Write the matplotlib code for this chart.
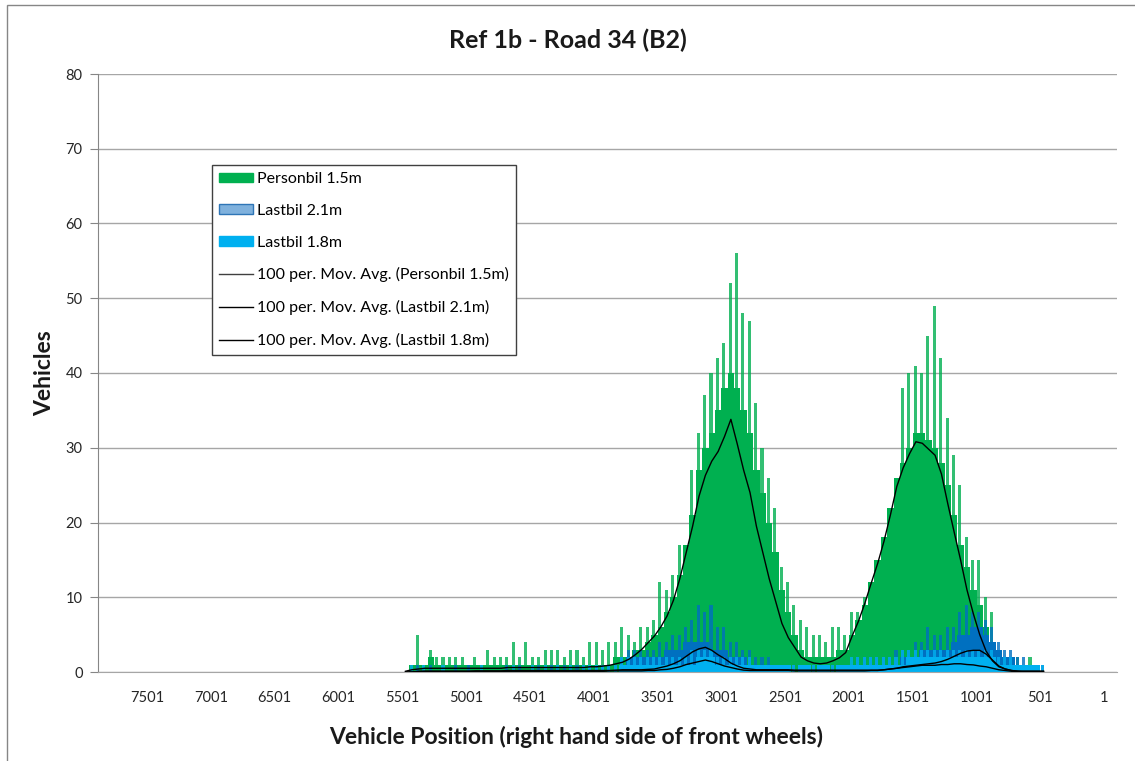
"""Ref 1b - Road 34 (B2): lateral position histogram with 100-period moving averages."""
import matplotlib
matplotlib.use("Agg")
import matplotlib.pyplot as plt
import numpy as np
from matplotlib.lines import Line2D
from matplotlib.patches import Patch, Rectangle

plt.rcParams["font.family"] = ["Lato", "DejaVu Sans"]

# vehicle position (category), 50-position bins, left -> right
POS = np.arange(5475, 450, -50)

# Personbil 1.5m: solid body and tallest spike per bin
CAR_BODY = [0, 1, 1, 1, 2, 1, 1, 1, 1, 1, 1, 1, 1, 1, 1, 1, 1, 1, 1, 1,
            1, 1, 1, 1, 1, 1, 1, 1, 1, 1, 1, 1, 1, 2, 2, 2, 3, 3, 4, 5,
            6, 8, 10, 13, 17, 21, 27, 30, 32, 35, 38, 40, 38, 35, 32, 27, 24, 20, 16, 11,
            8, 5, 3, 2, 2, 2, 2, 2, 3, 3, 5, 7, 9, 12, 15, 18, 22, 26, 28, 30,
            32, 32, 31, 30, 28, 25, 21, 17, 14, 11, 9, 6, 3, 1, 1, 1, 1, 1, 1, 1, 0]
CAR_PEAK = [0, 1, 5, 1, 3, 2, 2, 2, 2, 2, 1, 2, 1, 3, 2, 2, 2, 4, 2, 4,
            2, 2, 3, 3, 3, 2, 3, 3, 2, 4, 4, 3, 4, 4, 6, 5, 4, 6, 6, 7,
            12, 11, 13, 17, 17, 27, 32, 37, 40, 42, 44, 52, 56, 48, 47, 36, 30, 26, 22, 14,
            12, 9, 7, 6, 5, 5, 4, 6, 6, 5, 8, 8, 10, 10, 15, 15, 19, 26, 38, 40,
            41, 40, 45, 49, 42, 34, 29, 25, 18, 15, 15, 10, 8, 3, 2, 2, 2, 1, 2, 1, 0]
CAR_MA = [0.1, 0.3, 0.4, 0.5, 0.5, 0.5, 0.5, 0.5, 0.5, 0.5,
          0.5, 0.5, 0.5, 0.5, 0.5, 0.5, 0.6, 0.6, 0.6, 0.6,
          0.6, 0.6, 0.6, 0.6, 0.6, 0.6, 0.6, 0.6, 0.6, 0.7,
          0.7, 0.8, 0.9, 1.1, 1.3, 1.7, 2.3, 3.0, 3.9, 4.8,
          6.0, 7.5, 9.6, 12.5, 16.0, 19.5, 23.5, 26.3, 28.2, 29.5,
          31.5, 33.8, 30.5, 27.0, 24.0, 19.5, 16.0, 12.5, 9.5, 6.5,
          4.6, 3.3, 2.0, 1.5, 1.2, 1.1, 1.2, 1.5, 1.9, 2.6,
          4.8, 6.8, 9.2, 11.9, 14.5, 17.5, 21.0, 24.8, 27.3, 29.2,
          30.8, 30.6, 29.8, 29.0, 26.5, 22.5, 18.7, 15.0, 11.0, 7.8,
          5.0, 2.8, 1.5, 0.7, 0.4, 0.2, 0.1, 0.0, 0.0, 0.0, 0.0]

# Lastbil 2.1m
T21_BODY = [0] * 30 + [0, 0, 0, 0, 1, 2, 2, 2, 2, 2,
                       2, 3, 3, 3, 4, 4, 4, 4, 3, 3,
                       3, 2, 2, 2, 1, 1, 1, 1, 0, 0,
                       0, 0, 0, 0, 0, 0, 0, 0, 0, 0,
                       0, 1, 1, 1, 1, 1, 1, 1, 2, 2,
                       2, 3, 3, 3, 3, 3, 4, 5, 5, 6,
                       6, 5, 4, 3, 2, 2, 1, 1, 1, 1, 0]
T21_PEAK = [0, 0, 1, 0, 1, 0, 0, 0, 1, 0, 1, 0, 0, 0, 0, 0, 1, 0, 1, 0,
            0, 1, 0, 1, 1, 1, 0, 1, 1, 1, 1, 1, 1, 1, 2, 3, 3, 3, 3, 3,
            4, 4, 5, 5, 6, 7, 9, 8, 9, 6, 6, 4, 4, 3, 3, 2, 2, 2, 1, 1,
            1, 1, 1, 1, 1, 1, 1, 1, 1, 1, 1, 2, 2, 2, 2, 2, 2, 3, 3, 3,
            4, 4, 6, 5, 5, 6, 6, 8, 9, 8, 8, 7, 6, 4, 3, 3, 2, 2, 1, 1, 1]
T21_MA = [0, 0, 0.1, 0.1, 0.1, 0.1, 0.1, 0.1, 0.1, 0.1,
          0.1, 0.15, 0.15, 0.15, 0.15, 0.15, 0.2, 0.2, 0.2, 0.2,
          0.2, 0.2, 0.2, 0.2, 0.2, 0.2, 0.2, 0.2, 0.2, 0.2,
          0.2, 0.2, 0.2, 0.25, 0.3, 0.3, 0.3, 0.3, 0.35, 0.4,
          0.6, 0.8, 1.1, 1.5, 2.1, 2.7, 3.1, 3.3, 2.9, 2.3,
          1.8, 1.2, 0.8, 0.5, 0.4, 0.3, 0.3, 0.3, 0.3, 0.3,
          0.3, 0.25, 0.25, 0.25, 0.25, 0.25, 0.25, 0.25, 0.25, 0.25,
          0.25, 0.25, 0.25, 0.25, 0.25, 0.3, 0.4, 0.5, 0.7, 0.8,
          0.9, 1.0, 1.1, 1.2, 1.4, 1.7, 2.1, 2.5, 2.8, 2.9,
          2.9, 2.4, 1.6, 0.8, 0.4, 0.2, 0.1, 0.1, 0.1, 0.1, 0.1]

# Lastbil 1.8m
T18_BODY = [0] * 30 + [0, 0, 0, 0, 1, 1, 1, 1, 1, 1,
                       1, 1, 1, 1, 1, 1, 2, 2, 2, 1,
                       1, 1, 1, 1, 1, 1, 1, 1, 1, 1,
                       1, 0, 1, 1, 0, 1, 1, 0, 1, 1,
                       1, 1, 1, 1, 1, 1, 1, 1, 1, 2,
                       2, 2, 2, 2, 2, 2, 2, 2, 2, 2,
                       2, 2, 2, 1, 1, 1, 1, 1, 1, 1, 0]
T18_PEAK = [0, 1, 0, 1, 0, 0, 1, 0, 0, 0, 0, 0, 1, 0, 0, 0, 0, 1, 0, 0,
            1, 0, 1, 0, 1, 0, 1, 0, 1, 1, 1, 1, 1, 1, 2, 2, 2, 2, 2, 2,
            2, 2, 2, 2, 2, 3, 3, 3, 3, 2, 2, 2, 2, 2, 2, 1, 1, 1, 1, 1,
            1, 1, 1, 1, 1, 1, 1, 1, 1, 1, 2, 2, 2, 2, 2, 2, 2, 2, 3, 3,
            3, 3, 3, 3, 3, 3, 3, 3, 3, 3, 3, 3, 3, 2, 2, 2, 1, 1, 1, 1, 1]
T18_MA = [0, 0, 0.05, 0.1, 0.1, 0.1, 0.1, 0.1, 0.1, 0.1] + [0.1] * 20 + \
         [0.1, 0.1, 0.15, 0.15, 0.15, 0.15, 0.15, 0.15, 0.2, 0.2,
          0.3, 0.35, 0.5, 0.7, 1.0, 1.2, 1.4, 1.6, 1.4, 1.1,
          0.8, 0.6, 0.4, 0.25, 0.2, 0.2, 0.2, 0.2, 0.2, 0.2,
          0.2, 0.15, 0.15, 0.15, 0.15, 0.15, 0.15, 0.15, 0.15, 0.15,
          0.15, 0.15, 0.15, 0.2, 0.2, 0.3, 0.4, 0.5, 0.6, 0.7,
          0.8, 0.9, 0.9, 0.9, 1.0, 1.0, 1.1, 1.1, 1.0, 0.95,
          0.8, 0.7, 0.5, 0.3, 0.2, 0.1, 0.1, 0.1, 0.1, 0.1, 0.1]

XTICKS = np.arange(7501, 0, -500)
GREEN, BLUE21, BLUE18 = "#00B050", "#0070C0", "#00B0F0"
GRID = "#A6A6A6"

W, H = 1135, 761
fig = plt.figure(figsize=(W / 100, H / 100), dpi=100)
ax = fig.add_axes([98 / W, 1 - 672 / H, (1117 - 98) / W, (672 - 74) / H])

for body, peak, c in ((CAR_BODY, CAR_PEAK, GREEN),
                      (T21_BODY, T21_PEAK, BLUE21),
                      (T18_BODY, T18_PEAK, BLUE18)):
    ax.bar(POS, body, width=50, color=c, linewidth=0)
    # spikes: the tallest single position in each bin
    ax.bar(POS + 6, peak, width=24, color=c, linewidth=0, alpha=0.8)

for ma in (CAR_MA, T21_MA, T18_MA):
    ax.plot(POS, ma, color="black", lw=1.0, zorder=5)

ax.set_xlim(7885, -101)
ax.set_ylim(0, 80)
ax.set_yticks(range(0, 81, 10))
ax.set_xticks(XTICKS)
ax.set_xticklabels([str(t) for t in XTICKS])
ax.grid(axis="y", color=GRID, lw=1)
ax.set_axisbelow(True)
for s in ("top", "right"):
    ax.spines[s].set_visible(False)
ax.spines["left"].set_color("#868686")
ax.spines["bottom"].set_color(GRID)
ax.tick_params(axis="x", length=0, pad=14, labelsize=10.5, colors="#262626")
ax.tick_params(axis="y", length=6, color="#868686", pad=5, labelsize=10.5,
               labelcolor="#262626")

handles = [Patch(facecolor=GREEN, edgecolor=GREEN),
           Patch(facecolor="#7FB1DD", edgecolor="#2E75B6"),
           Patch(facecolor=BLUE18, edgecolor=BLUE18),
           Line2D([], [], color="#404040", lw=1),
           Line2D([], [], color="black", lw=1),
           Line2D([], [], color="black", lw=1)]
labels = ["Personbil 1.5m", "Lastbil 2.1m", "Lastbil 1.8m",
          "100 per. Mov. Avg. (Personbil 1.5m)",
          "100 per. Mov. Avg. (Lastbil 2.1m)",
          "100 per. Mov. Avg. (Lastbil 1.8m)"]
leg = ax.legend(handles, labels, loc="upper left", bbox_to_anchor=(0.112, 0.848),
                borderaxespad=0, fontsize=11.5, handlelength=2.1, handleheight=0.55,
                labelspacing=1.11, handletextpad=0.25, borderpad=0.45, fancybox=False,
                framealpha=1, edgecolor="#404040")
leg.get_frame().set_linewidth(1)

fig.text(568 / W, 1 - 40 / H, "Ref 1b - Road 34 (B2)", ha="center", va="center",
         fontsize=18, fontweight="bold", color="#1a1a1a")
fig.text(576 / W, 1 - 737 / H, "Vehicle Position (right hand side of front wheels)",
         ha="center", va="center", fontsize=16.5, fontweight="bold", color="#1a1a1a")
fig.text(45 / W, 1 - 373 / H, "Vehicles", ha="center", va="center", rotation=90,
         fontsize=16.5, fontweight="bold", color="#1a1a1a")

fig.patches.append(Rectangle((7 / W, -0.05), 1.2, 1 - 5 / H + 0.05, transform=fig.transFigure,
                             fill=False, edgecolor="#868686", lw=1))

fig.savefig("out.png", dpi=100)
